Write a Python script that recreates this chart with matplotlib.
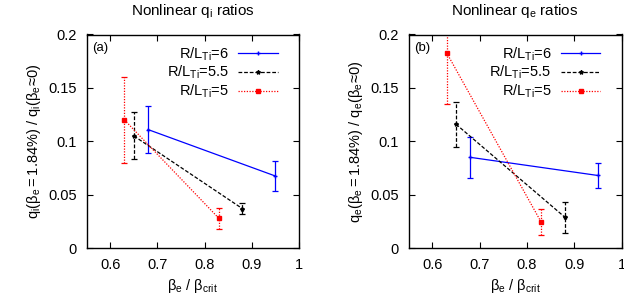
import numpy as np
import matplotlib
matplotlib.use('Agg')
import matplotlib.pyplot as plt
from matplotlib.lines import Line2D

plt.rcParams['font.family'] = ['Liberation Sans', 'DejaVu Sans']
plt.rcParams['mathtext.fontset'] = 'custom'
plt.rcParams['mathtext.rm'] = 'Liberation Sans'
plt.rcParams['mathtext.it'] = 'Liberation Sans'
plt.rcParams['mathtext.bf'] = 'Liberation Sans'
plt.rcParams['font.size'] = 10

# ============================================================================
# DATA
# ============================================================================

series_labels = [r'R/L$_\mathregular{Ti}$=6', r'R/L$_\mathregular{Ti}$=5.5', r'R/L$_\mathregular{Ti}$=5']

x_6 = [0.68, 0.95]
x_55 = [0.65, 0.88]
x_5 = [0.63, 0.83]

# panel (a): ion heat flux ratios
qi_6 = [0.111, 0.0675]
qi_6_err = [0.022, 0.014]
qi_55 = [0.105, 0.037]
qi_55_err = [0.022, 0.0055]
qi_5 = [0.120, 0.028]
qi_5_err = [0.040, 0.010]

# panel (b): electron heat flux ratios
qe_6 = [0.085, 0.068]
qe_6_err = [0.019, 0.012]
qe_55 = [0.116, 0.029]
qe_55_err = [0.021, 0.0145]
qe_5 = [0.183, 0.0244]
qe_5_err = [0.048, 0.012]

x_ticks = [0.6, 0.7, 0.8, 0.9, 1.0]
x_ticklabels = ['0.6', '0.7', '0.8', '0.9', '1']
y_ticks = [0, 0.05, 0.1, 0.15, 0.2]
y_ticklabels = ['0', '0.05', '0.1', '0.15', '0.2']

styles = [
    dict(color='#0000ff', ls='-', marker='+', ms=3),
    dict(color='#000000', ls=(0, (3, 1.5)), marker='*', ms=3),
    dict(color='#ff0000', ls=(0, (1, 1.2)), marker='s', ms=2.5),
]


def draw_panel(ax, ys, errs, tag, title, ylabel):
    xs = [x_6, x_55, x_5]
    handles = []
    for x, y, e, st, lab in zip(xs, ys, errs, styles, series_labels):
        eb = ax.errorbar(x, y, yerr=e, color=st['color'], ls=st['ls'],
                         marker=st['marker'], ms=st['ms'], lw=0.9,
                         elinewidth=0.9, capsize=2.5, capthick=0.9)
        eb[2][0].set_linestyle(st['ls'])
        handles.append(Line2D([], [], color=st['color'], ls=st['ls'], lw=0.9,
                              marker=st['marker'], ms=st['ms'], label=lab))
    ax.set_xlim(0.55, 1.0)
    ax.set_ylim(0, 0.2)
    ax.set_xticks(x_ticks)
    ax.set_xticklabels(x_ticklabels)
    ax.set_yticks(y_ticks)
    ax.set_yticklabels(y_ticklabels)
    ax.tick_params(direction='in', top=True, right=True, length=4, pad=7,
                   labelsize=10.5)
    ax.text(0.025, 0.965, tag, transform=ax.transAxes, ha='left', va='top', fontsize=9.5)
    ax.set_title(title, fontsize=11, pad=14)
    ax.set_xlabel(r'$\mathregular{\beta_e\ /\ \beta_{crit}}$', fontsize=10.5)
    ax.set_ylabel(ylabel, fontsize=10.5)
    ax.legend(handles=handles, loc='upper right', frameon=False, markerfirst=False,
              handlelength=2.7, labelspacing=0.1, borderaxespad=0.0,
              borderpad=0.0, fontsize=10.5, handletextpad=0.65,
              bbox_to_anchor=(0.90, 0.95))
    for s in ax.spines.values():
        s.set_linewidth(1.0)


fig = plt.figure(figsize=(6.24, 3.0), dpi=100)
ax1 = fig.add_axes([0.139, 0.173, 0.340, 0.712])
ax2 = fig.add_axes([0.655, 0.173, 0.341, 0.712])

draw_panel(ax1, [qi_6, qi_55, qi_5], [qi_6_err, qi_55_err, qi_5_err], '(a)',
           r'Nonlinear q$_\mathregular{i}$ ratios',
           r'$\mathregular{q_i(\beta_e=1.84\%)\ /\ q_i(\beta_e\!\approx\!0)}$')
draw_panel(ax2, [qe_6, qe_55, qe_5], [qe_6_err, qe_55_err, qe_5_err], '(b)',
           r'Nonlinear q$_\mathregular{e}$ ratios',
           r'$\mathregular{q_e(\beta_e=1.84\%)\ /\ q_e(\beta_e\!\approx\!0)}$')

fig.savefig('out.png', dpi=100)
